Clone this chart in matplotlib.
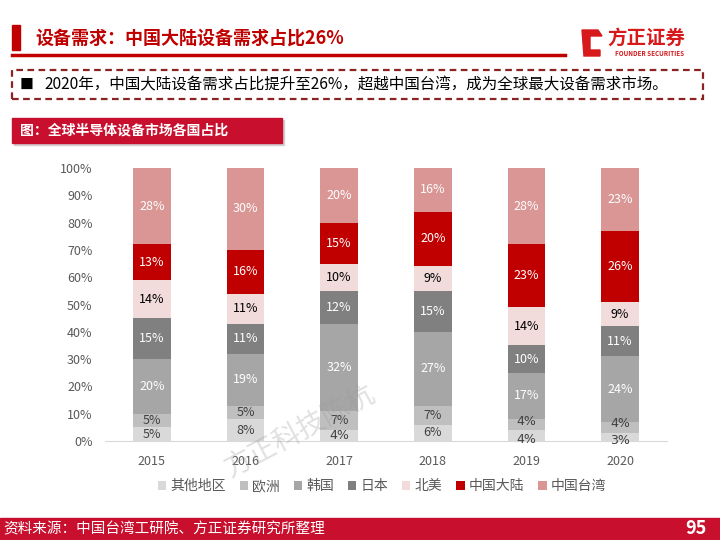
import matplotlib.pyplot as plt
import matplotlib.patches as mpatches
import numpy as np

plt.rcParams['font.family'] = ['Noto Sans CJK SC', 'DejaVu Sans']

# 数据
years = ['2015', '2016', '2017', '2018', '2019', '2020']
regions = ['其他地区', '欧洲', '韩国', '日本', '北美', '中国大陆', '中国台湾']
other = [5, 8, 4, 6, 4, 3]
europe = [5, 5, 7, 7, 4, 4]
korea = [20, 19, 32, 27, 17, 24]
japan = [15, 11, 12, 15, 10, 11]
north_america = [14, 11, 10, 9, 14, 9]
mainland = [13, 16, 15, 20, 23, 26]
taiwan = [28, 30, 20, 16, 28, 23]

series = [other, europe, korea, japan, north_america, mainland, taiwan]
colors = ['#d9d9d9', '#bfbfbf', '#a6a6a6', '#808080', '#f2dcdb', '#c00000', '#d99694']
label_colors = ['#404040', '#404040', 'white', 'white', 'black', 'white', 'white']

RED = '#c00000'

fig = plt.figure(figsize=(7.2, 5.4), dpi=100)

def px(x, y):
    return x / 720, 1 - y / 540

# ---- 页眉 ----
fig.patches.append(mpatches.Rectangle(px(12, 50), 8 / 720, 25 / 540, transform=fig.transFigure,
                                      color=RED, zorder=1))
fig.text(*px(35, 38), '设备需求：中国大陆设备需求占比26%', color=RED, fontsize=13,
         fontweight='bold', va='center', ha='left')
fig.lines.append(plt.Line2D([12 / 720, 565 / 720], [1 - 55 / 540] * 2, transform=fig.transFigure,
                            color=RED, lw=2.5))

# logo
logo_x = np.array([582, 598, 602, 590, 590, 600, 600, 584])
logo_y = np.array([30, 30, 36, 36, 50, 50, 56, 56])
fig.patches.append(mpatches.Polygon(np.column_stack([logo_x / 720, 1 - logo_y / 540]),
                                    closed=True, transform=fig.transFigure, color='#d7191c'))
fig.text(*px(607, 38), '方正证券', color='#d7191c', fontsize=14, fontweight='bold',
         va='center', ha='left')
fig.text(*px(650, 54), 'FOUNDER SECURITIES', color='#d7191c', fontsize=4.5,
         fontweight='bold', va='center', ha='center')

# 虚线框
fig.patches.append(mpatches.Rectangle(px(12, 99), 691 / 720, 29 / 540, transform=fig.transFigure,
                                      fill=False, ec='#8b2323', lw=1.6, ls=(0, (3, 2))))
fig.text(*px(20, 85), '■', fontsize=10, va='center', ha='left', color='black')
fig.text(*px(44, 85), '2020年，中国大陆设备需求占比提升至26%，超越中国台湾，成为全球最大设备需求市场。',
         fontsize=11.2, va='center', ha='left', color='black')

# 图标题
fig.patches.append(mpatches.Rectangle(px(14, 145), 270 / 720, 25 / 540, transform=fig.transFigure,
                                      color='#d0d0d0'))
fig.patches.append(mpatches.Rectangle(px(12, 143), 270 / 720, 25 / 540, transform=fig.transFigure,
                                      color='#c8102e'))
fig.text(*px(20, 131), '图：全球半导体设备市场各国占比', color='white', fontsize=10,
         fontweight='bold', va='center', ha='left')

# 页脚
fig.patches.append(mpatches.Rectangle((0, 0), 1, 22 / 540, transform=fig.transFigure,
                                      color='#c8102e'))
fig.text(*px(3, 529), '资料来源：中国台湾工研院、方正证券研究所整理', color='white', fontsize=10.5,
         va='center', ha='left')
fig.text(*px(707, 528), '95', color='white', fontsize=13, fontweight='bold',
         va='center', ha='right')

# ---- 图表 ----
ax = fig.add_axes([105 / 720, 1 - 441 / 540, 562 / 720, 273 / 540])
x = np.arange(len(years))
bottom = np.zeros(len(years))
for k, (name, vals, c, lc) in enumerate(zip(regions, series, colors, label_colors)):
    ax.bar(x, vals, width=0.4, bottom=bottom, color=c, label=name)
    for i, v in enumerate(vals):
        # 底部两段很窄时，把数字上下错开一点
        dy = 0
        if k == 0 and v + europe[i] <= 8:
            dy = -2.5
        elif k == 1 and v + other[i] <= 8:
            dy = 2.5
        ax.annotate(f'{v}%', (x[i], bottom[i] + v / 2), xytext=(0, dy),
                    textcoords='offset points', ha='center', va='center',
                    color=lc, fontsize=9, family='DejaVu Sans' if v < 5 else None)
    bottom += np.array(vals)

ax.set_xlim(-0.5, len(years) - 0.5)
ax.set_ylim(0, 100)
ax.set_yticks(np.arange(0, 101, 10))
ax.set_yticklabels([f'{v}%' for v in range(0, 101, 10)])
ax.set_xticks(x)
ax.set_xticklabels(years)
ax.tick_params(axis='both', length=0, labelsize=9, colors='#595959')
ax.tick_params(axis='x', pad=10)
ax.tick_params(axis='y', pad=9)
for s in ['top', 'right', 'left']:
    ax.spines[s].set_visible(False)
ax.spines['bottom'].set_color('#d9d9d9')

fig.legend(loc='center', bbox_to_anchor=(382 / 720, 1 - 486 / 540), ncol=7, frameon=False,
           fontsize=10, handlelength=0.6, handleheight=0.6, handletextpad=0.3,
           columnspacing=1.0, labelcolor='#595959')

# 水印
fig.text(*px(300, 432), '方正科技陈杭', fontsize=20, color='#999999', alpha=0.3,
         rotation=28, ha='center', va='center')

fig.savefig('out.png', dpi=100)
